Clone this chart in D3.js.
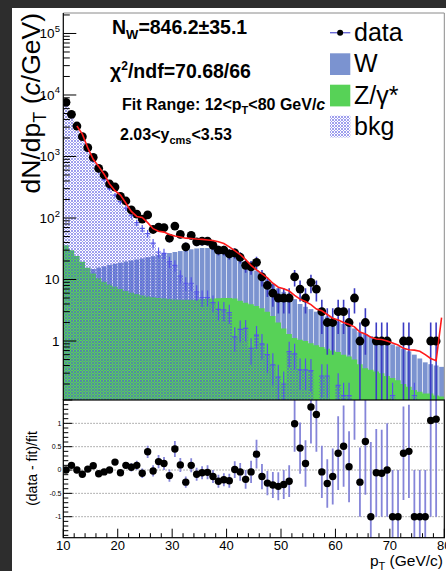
<!DOCTYPE html>
<html><head><meta charset="utf-8">
<script src="https://cdn.jsdelivr.net/npm/d3@7"></script>
<style>
html,body{margin:0;padding:0;background:#2d2d2d;}
svg{display:block;}
text{font-family:"Liberation Sans",Arial,Helvetica,sans-serif;fill:#000;}
</style></head><body>
<svg id="c" width="446" height="571"></svg>
<script>
// 1 GeV bins from 10 to 80 GeV/c (lower edges)
const ptLow = [10,11,12,13,14,15,16,17,18,19,20,21,22,23,24,25,26,27,28,29,30,31,32,33,34,35,36,37,38,39,
  40,41,42,43,44,45,46,47,48,49,50,51,52,53,54,55,56,57,58,59,60,61,62,63,64,65,66,67,68,69,70,71,72,73,74,75,76,77,78,79];

// measured dN/dpT per bin and its uncertainty (null = no entry)
const dataN = [7610,4850,3130,2100,1390,970,643,500,357,319,224,189,135,116,96,112,65,71,70,47,
  74,54,34,52,41,42,42,36,30,30,26,27,23,17,16,19,11,8,6,5,5,5,11,7,5,9,7,3,2,2,
  3,3,2,5,1,2,0,1,1,1,0,0,1,1,0,0,0,1,1,null];
const dataErr = [87,70,56,46,37,31,25,22,19,18,15,14,12,11,10,11,8.1,8.4,8.4,6.9,
  8.6,7.3,5.8,7.2,6.4,6.5,6.5,6,5.5,5.5,5.1,5.2,4.8,4.1,4,4.4,3.3,2.8,2.4,2.2,
  2.2,2.2,3.3,2.6,2.2,3,2.6,1.7,1.4,1.4,1.7,1.7,1.4,2.2,1,1.4,0,1,1,1,
  0,0,1,1,0,0,0,1,1,0];

// templates
const wTemplate = [10,11,12,13,14,14.8,15.6,16.4,17.2,18,18.8,19.6,20.4,21.2,22,23,24,25,26,27,
  28,29,30,31,32,32.5,32.5,32,31,29.5,27.5,25,22.5,19.5,16.5,14,12,10,8.5,7.2,
  6.3,5.6,4.8,4.0,3.6,3.3,3.0,2.75,2.5,2.25,2.05,1.9,1.75,1.6,1.4,1.3,1.2,1.1,1.02,0.95,
  0.88,0.82,0.75,0.68,0.6,0.52,0.45,0.42,0.4,0.38];
const zTemplate = [36,30,24,19.5,15.5,12.5,10.5,9.2,8.3,7.6,7.0,6.5,6.1,5.8,5.5,5.3,5.15,5.0,4.9,4.8,
  4.75,4.7,4.7,4.7,4.75,4.8,4.85,4.9,4.95,5.0,5.0,4.9,4.5,4.2,3.95,3.7,3.4,3.0,2.55,2.0,
  1.6,1.3,1.12,1.05,1.0,0.92,0.85,0.8,0.75,0.7,0.66,0.6,0.56,0.5,0.42,0.36,0.34,0.32,0.3,0.27,
  0.25,0.23,0.2,0.18,0.16,0.15,0.14,0.14,0.13,0.125];
const bkgTemplate = [6900,4400,2850,1900,1250,850,570,420,300,235,185,145,111,84,68,56,39,28,26.6,19.5,
  17,11.4,8.7,8.7,6.3,5.1,5.1,4.2,3.27,3.2,2.9,1.17,1.55,1.6,0.76,1.25,0.9,0.6,0.41,0.26,
  0.2,0.67,0.62,0.34,0.34,0.33,0,0.27,0.27,0,0.19,0.13,0.13,0,0,0,0,0,0,0,
  0.13,0,0,0,0.13,0,0,0,0,0];
const bkgErr = [300,220,160,110,80,55,40,32,25,20,17,14,12,10,9,8,6.5,5,5,4,
  3.6,2.8,2.2,2.2,1.8,1.5,1.5,1.3,1.1,1.1,1.0,0.5,0.6,0.6,0.35,0.5,0.4,0.3,0.22,0.15,
  0.12,0.3,0.28,0.18,0.18,0.18,0,0.15,0.15,0,0.11,0.08,0.08,0,0,0,0,0,0,0,
  0.08,0,0,0,0.08,0,0,0,0,0];

// fit result, drawn over the fit range 12-80 GeV/c
const fitVal = [null,null,3130,2310,1380,900,690,515,357,278,236,174,128,106,102,84,67,61,59,54,
  51,49,47,46.5,45.5,45,44,43,41,38.5,34,29.5,25.5,21,17,14.3,12.3,10.6,8.7,7.5,
  7.1,6.5,5.5,4.8,4.4,3.9,3.3,3.1,2.7,2.35,2.2,2.0,1.85,1.7,1.4,1.3,1.15,1.08,1.06,1.0,
  0.93,0.86,0.76,0.72,0.71,0.68,0.6,0.52,0.48,2.4];

// (data - fit)/fit
const ratio = [0.0,0.1,0.0,-0.09,0.02,0.09,-0.08,-0.04,0.0,0.17,-0.06,0.1,0.06,0.1,-0.07,0.39,-0.02,0.18,0.14,-0.12,
  0.45,0.11,-0.26,0.1,-0.09,-0.06,-0.05,-0.14,-0.24,-0.21,-0.23,0.01,-0.04,-0.2,-0.04,0.34,-0.14,-0.28,-0.32,-0.35,
  -0.31,-0.24,0.99,0.47,0.14,1.35,1.19,-0.04,-0.29,-0.14,0.36,0.51,0.07,1.95,-0.26,0.61,-1,-0.06,-0.07,0.0,
  -1,-1,0.36,0.4,-1,-1,-1,1.06,1.09,null];
const ratioErr = [0.03,0.03,0.03,0.03,0.03,0.04,0.04,0.04,0.05,0.06,0.06,0.07,0.09,0.1,0.1,0.13,0.12,0.14,0.14,0.13,
  0.17,0.15,0.12,0.15,0.14,0.14,0.15,0.14,0.14,0.14,0.15,0.18,0.19,0.2,0.24,0.31,0.27,0.26,0.28,0.3,
  0.31,0.34,0.6,0.55,0.5,0.78,0.8,0.56,0.52,0.6,0.79,0.87,0.76,1.3,0.74,1.14,1.6,0.94,0.93,1.0,
  1.0,1.0,1.0,1.0,1.0,1.0,1.0,2.06,2.09,0];

const logTicks = [1,10,100,1000,10000,100000];
const logTickExp = ["","","2","3","4","5"];
const ratioTicks = [1,0.5,0,-0.5,-1];
const ratioTickLabels = ["1","0.5","0","-0.5","-1"];
const xTicks = [10,20,30,40,50,60,70,80];

const colW = "#7b93d0", colZ = "#57d257", colBkg = "#5050e0", colErr = "#3c3cc4", colErrLow = "#8585d9", colFit = "#ff1a1a";

const svg = d3.select("#c");
svg.append("rect").attr("x",12).attr("y",8).attr("width",434).attr("height",563).attr("fill","#fff");

const padL = 63.3, padR = 444.3, padT = 13, midY = 400, padB = 537.7;
const x = d3.scaleLinear().domain([10,80]).range([padL,padR]);
const y = d3.scaleLog().domain([Math.pow(10,-0.959), Math.pow(10,5.333)]).range([midY, padT]);
const yr = d3.scaleLinear().domain([-1.45,1.5]).range([padB, midY]);
const yv = v => (v > 0 ? y(v) : midY + 3);

const defs = svg.append("defs");
defs.append("clipPath").attr("id","clipTop").append("rect")
  .attr("x",padL).attr("y",padT).attr("width",padR-padL).attr("height",midY-padT);
defs.append("clipPath").attr("id","clipBot").append("rect")
  .attr("x",padL).attr("y",midY).attr("width",padR-padL).attr("height",padB-midY);
const pat = defs.append("pattern").attr("id","hatch").attr("width",3).attr("height",3)
  .attr("patternUnits","userSpaceOnUse");
[[0,0],[1,1],[2,2],[2,0],[0,2]].forEach(([i,j]) => pat.append("rect")
  .attr("x",i).attr("y",j).attr("width",1).attr("height",1)
  .attr("fill",colBkg).attr("fill-opacity",0.55).attr("shape-rendering","crispEdges"));

function stepArea(vals){
  const pts = [];
  vals.forEach((v,i) => { const yy = yv(v); pts.push([x(ptLow[i]), yy], [x(ptLow[i]+1), yy]); });
  return d3.area().x(d => d[0]).y0(midY + 3).y1(d => d[1])(pts);
}

// ---------- upper pad ----------
const gTop = svg.append("g").attr("clip-path","url(#clipTop)");
const bw = x(11) - x(10);

gTop.selectAll("rect.w").data(wTemplate).join("rect").attr("class","w")
  .attr("x",(d,i) => x(ptLow[i]) + 0.35).attr("width", bw - 0.7)
  .attr("y", d => yv(d)).attr("height", d => midY + 3 - yv(d)).attr("fill", colW);

gTop.append("path").attr("d", stepArea(zTemplate)).attr("fill", colZ);
gTop.append("path").attr("d", stepArea(bkgTemplate)).attr("fill", "url(#hatch)");

// background points
bkgTemplate.forEach((v,i) => {
  if (!(v > 0)) return;
  const cx = x(ptLow[i] + 0.5);
  const lo = v - bkgErr[i];
  gTop.append("line").attr("x1",cx).attr("x2",cx)
    .attr("y1", lo > 0 ? y(lo) : midY + 3).attr("y2", y(v + bkgErr[i]))
    .attr("stroke","#5555e8").attr("stroke-width",1.2);
  gTop.append("line").attr("x1",cx-2.5).attr("x2",cx+2.5).attr("y1",y(v)).attr("y2",y(v))
    .attr("stroke","#5555e8").attr("stroke-width",1.2);
});

// data
dataN.forEach((v,i) => {
  if (!(v > 0)) return;
  const cx = x(ptLow[i] + 0.5);
  const lo = v - dataErr[i];
  gTop.append("line").attr("x1",cx).attr("x2",cx)
    .attr("y1", lo > 0 ? y(lo) : midY + 3).attr("y2", y(v + dataErr[i]))
    .attr("stroke",colErr).attr("stroke-width",1.6);
});
gTop.selectAll("circle.d").data(dataN.map((v,i) => ({v,i})).filter(d => d.v > 0)).join("circle")
  .attr("class","d").attr("cx", d => x(ptLow[d.i] + 0.5)).attr("cy", d => y(d.v)).attr("r",4.4).attr("fill","#000");

// fit
const fitPts = fitVal.map((v,i) => ({v,i})).filter(d => d.v != null);
gTop.append("path").attr("d", d3.line().x(d => x(ptLow[d.i] + 0.5)).y(d => y(d.v))(fitPts))
  .attr("fill","none").attr("stroke",colFit).attr("stroke-width",1.6);

// frame + y axis of upper pad
svg.append("line").attr("x1",padL).attr("x2",padR).attr("y1",padT).attr("y2",padT).attr("stroke","#8a8a8a").attr("stroke-width",1);
svg.append("line").attr("x1",padR).attr("x2",padR).attr("y1",padT).attr("y2",midY).attr("stroke","#8a8a8a").attr("stroke-width",1);
svg.append("line").attr("x1",padL).attr("x2",padL).attr("y1",padT).attr("y2",midY).attr("stroke","#000").attr("stroke-width",1.2);

const [dLo, dHi] = y.domain();
for (let e = -1; e <= 5; e++) {
  for (let m = 1; m <= 9; m++) {
    const v = m * Math.pow(10, e);
    if (v < dLo || v > dHi) continue;
    const len = m === 1 ? 13 : 6.5;
    svg.append("line").attr("x1",padL).attr("x2",padL+len).attr("y1",y(v)).attr("y2",y(v))
      .attr("stroke","#000").attr("stroke-width",1);
  }
}
logTicks.forEach((v,i) => {
  const t = svg.append("text").attr("y", y(v) + 4.8).attr("font-size",13.5);
  if (logTickExp[i] === "") {
    t.attr("x",59.5).attr("text-anchor","end").text(String(v));
  } else {
    t.attr("x",54.5).attr("text-anchor","end").text("10");
    svg.append("text").attr("x",54.8).attr("y",y(v) - 1.5).attr("font-size",9.5).text(logTickExp[i]);
  }
});

// y title
const yt = svg.append("text").attr("transform","translate(39.5,13) rotate(-90)")
  .attr("text-anchor","end").attr("font-size",26.5);
yt.append("tspan").text("dN/dp");
yt.append("tspan").attr("font-size",18).attr("dy",6).text("T");
yt.append("tspan").attr("dy",-6).text(" (");
yt.append("tspan").attr("font-style","italic").text("c");
yt.append("tspan").text("/GeV)");

// annotations
const a1 = svg.append("text").attr("x",112).attr("y",33.5).attr("font-size",19.5).attr("font-weight","bold");
a1.append("tspan").text("N");
a1.append("tspan").attr("font-size",13).attr("dy",5).text("W");
a1.append("tspan").attr("dy",-5).text("=846.2\u00B135.1");
const a2 = svg.append("text").attr("x",110).attr("y",77.5).attr("font-size",19.5).attr("font-weight","bold");
a2.append("tspan").text("\u03C7");
a2.append("tspan").attr("font-size",12).attr("dy",-8).text("2");
a2.append("tspan").attr("dy",8).text("/ndf=70.68/66");
const a3 = svg.append("text").attr("x",122).attr("y",110).attr("font-size",16).attr("font-weight","bold");
a3.append("tspan").text("Fit Range: 12<p");
a3.append("tspan").attr("font-size",11).attr("dy",4).text("T");
a3.append("tspan").attr("dy",-4).text("<80 GeV/");
a3.append("tspan").attr("font-style","italic").text("c");
const a4 = svg.append("text").attr("x",120).attr("y",139.5).attr("font-size",16).attr("font-weight","bold");
a4.append("tspan").text("2.03<y");
a4.append("tspan").attr("font-size",11).attr("dy",4).text("cms");
a4.append("tspan").attr("dy",-4).text("<3.53");

// legend
const lgX = 330, lgW = 20.3, lgH = 21.7;
svg.append("line").attr("x1",lgX).attr("x2",lgX+lgW).attr("y1",32.7).attr("y2",32.7).attr("stroke","#6a6ad6").attr("stroke-width",1.4);
svg.append("circle").attr("cx",lgX+lgW/2).attr("cy",32.7).attr("r",3).attr("fill","#000");
svg.append("rect").attr("x",lgX).attr("y",53.3).attr("width",lgW).attr("height",lgH).attr("fill",colW);
svg.append("rect").attr("x",lgX).attr("y",84.7).attr("width",lgW).attr("height",lgH).attr("fill",colZ);
svg.append("rect").attr("x",lgX).attr("y",115.7).attr("width",lgW).attr("height",lgH).attr("fill","url(#hatch)");
[["data",40.5],["W",72],["Z/\u03B3*",103.5],["bkg",134.5]].forEach(([s,yy]) =>
  svg.append("text").attr("x",354).attr("y",yy).attr("font-size",25).text(s));

// ---------- lower pad ----------
ratioTicks.forEach(v => svg.append("line").attr("x1",padL).attr("x2",padR).attr("y1",yr(v)).attr("y2",yr(v))
  .attr("stroke","#9a9a9a").attr("stroke-width",1).attr("stroke-dasharray","1.5,1.5"));

const gBot = svg.append("g").attr("clip-path","url(#clipBot)");
ratio.forEach((r,i) => {
  if (r == null) return;
  const cx = x(ptLow[i] + 0.5);
  gBot.append("line").attr("x1",cx).attr("x2",cx).attr("y1",yr(r - ratioErr[i])).attr("y2",yr(r + ratioErr[i]))
    .attr("stroke",colErrLow).attr("stroke-width",1.8);
});
ratio.forEach((r,i) => {
  if (r == null) return;
  gBot.append("circle").attr("cx",x(ptLow[i] + 0.5)).attr("cy",yr(r)).attr("r",3.7).attr("fill","#000");
});

svg.append("rect").attr("x",padL).attr("y",midY).attr("width",padR-padL).attr("height",padB-midY)
  .attr("fill","none").attr("stroke","#000").attr("stroke-width",1.2);

for (let k = -14; k <= 15; k++) {
  const v = k / 10;
  if (v < yr.domain()[0] || v > yr.domain()[1]) continue;
  const major = k % 5 === 0;
  svg.append("line").attr("x1",padL).attr("x2",padL + (major ? 9 : 5)).attr("y1",yr(v)).attr("y2",yr(v))
    .attr("stroke","#000").attr("stroke-width",1);
}
ratioTicks.forEach((v,i) => svg.append("text").attr("x",61.5).attr("y",yr(v)+2.4)
  .attr("text-anchor","end").attr("font-size",7).text(ratioTickLabels[i]));

for (let v = 10; v <= 80; v += 2) {
  const major = (v % 10 === 0);
  svg.append("line").attr("x1",x(v)).attr("x2",x(v)).attr("y1",padB).attr("y2",padB - (major ? 9 : 4.5))
    .attr("stroke","#000").attr("stroke-width",1);
}
xTicks.forEach(v => svg.append("text").attr("x",x(v)).attr("y",550).attr("text-anchor","middle")
  .attr("font-size",13).text(String(v)));

const xt = svg.append("text").attr("x",443).attr("y",565.5).attr("text-anchor","end").attr("font-size",15.5);
xt.append("tspan").text("p");
xt.append("tspan").attr("font-size",11).attr("dy",4).text("T");
xt.append("tspan").attr("dy",-4).text(" (GeV/c)");

svg.append("text").attr("transform","translate(37,468.5) rotate(-90)").attr("text-anchor","middle")
  .attr("font-size",14).text("(data - fit)/fit");
</script>
</body></html>
